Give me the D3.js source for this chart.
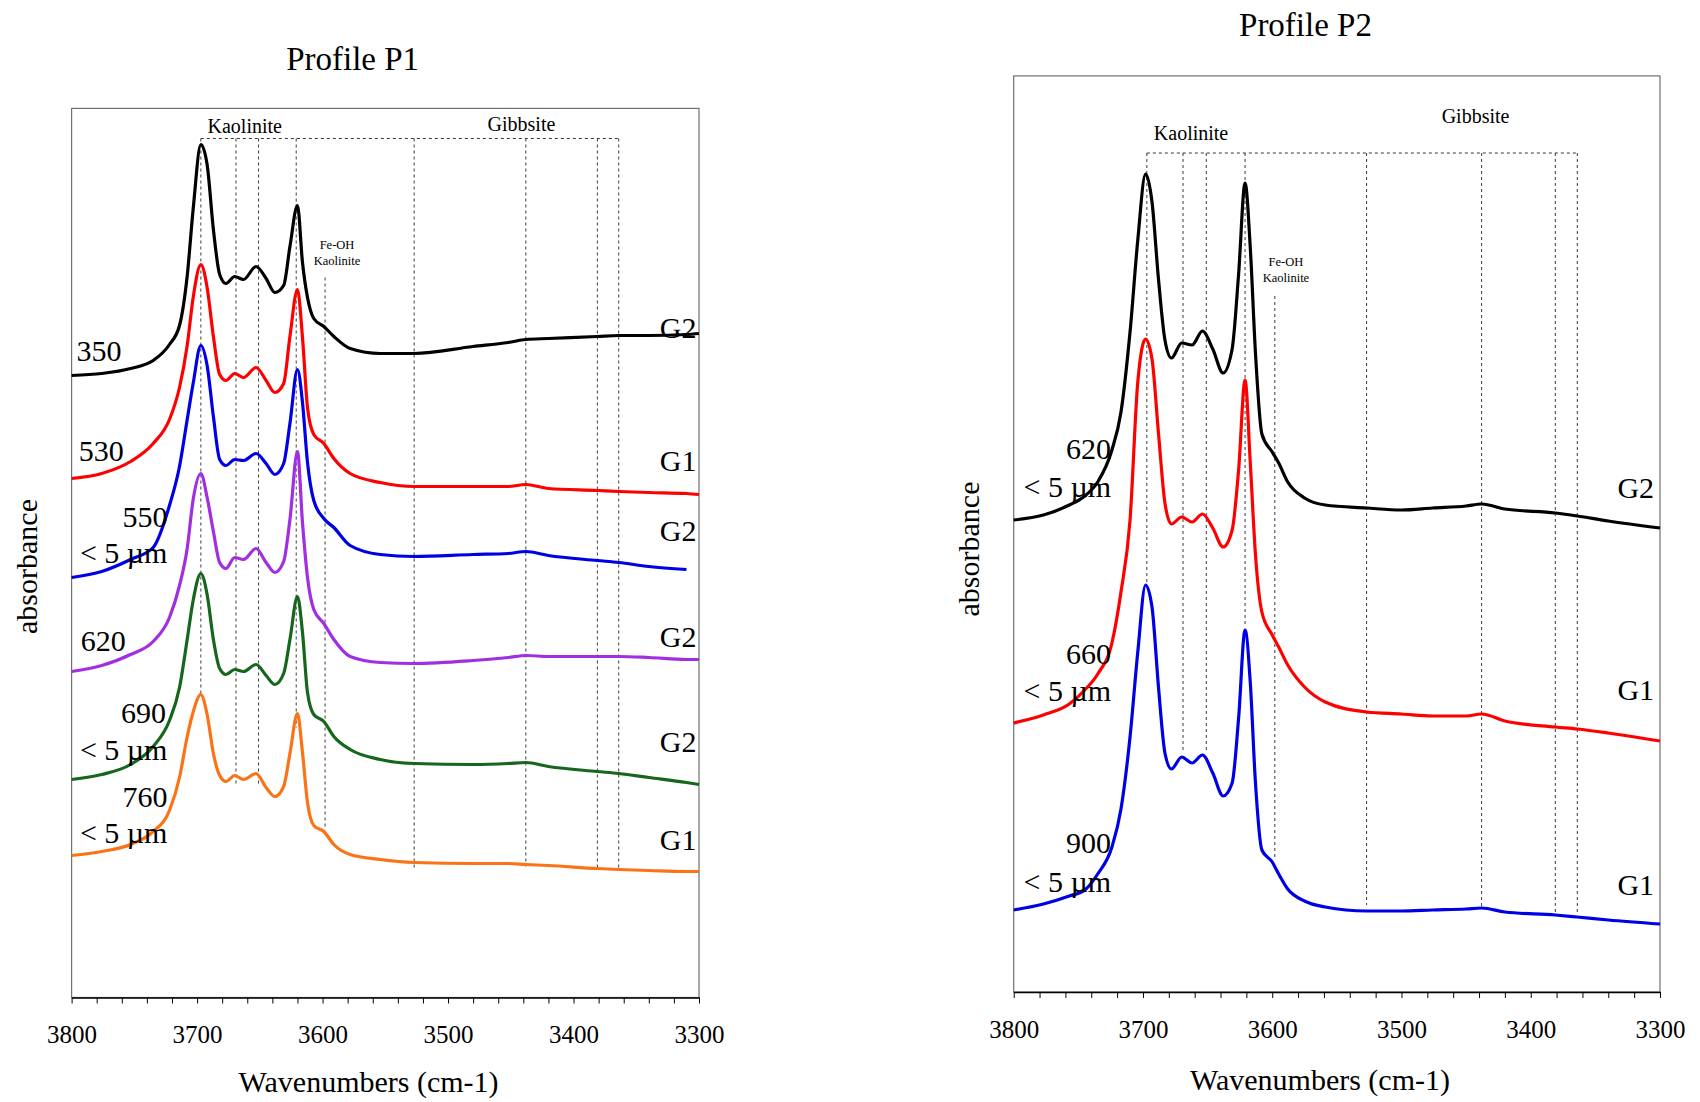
<!DOCTYPE html>
<html>
<head>
<meta charset="utf-8">
<script src="https://cdn.jsdelivr.net/npm/d3@7"></script>
<style>
  body { margin: 0; background: #fff; }
  svg { display: block; }
  text { font-family: "Liberation Serif", "Times New Roman", serif; fill: #000; }
</style>
</head>
<body>
<svg id="chart" width="1700" height="1102"></svg>
<script>
// ---------------------------------------------------------------
// FTIR spectra (OH stretching region), absorbance in arbitrary
// units, curves stacked with an offset.
// ---------------------------------------------------------------

// Profile P1
const p1Wavenumbers = [3800, 3776, 3753, 3735, 3722, 3714, 3708, 3703, 3697, 3692, 3687, 3682, 3677,
  3670, 3663, 3653, 3645, 3638, 3631, 3626, 3620, 3616, 3612, 3607, 3599, 3591, 3578, 3554, 3527,
  3480, 3452, 3438, 3420, 3381, 3364, 3340, 3310, 3300];
const p1Depth350 = [6.22, 6.24, 6.29, 6.37, 6.53, 6.72, 7.20, 7.90, 8.53, 8.33, 7.68, 7.23, 7.14,
  7.21, 7.18, 7.31, 7.19, 7.05, 7.12, 7.51, 7.92, 7.35, 7.00, 6.79, 6.71, 6.61, 6.49, 6.44, 6.44,
  6.51, 6.55, 6.58, 6.59, 6.61, 6.62, 6.62, 6.63, 6.64];
const p1Depth530 = [5.19, 5.24, 5.36, 5.54, 5.78, 6.10, 6.51, 7.01, 7.33, 7.10, 6.61, 6.23, 6.17,
  6.24, 6.20, 6.30, 6.17, 6.05, 6.14, 6.61, 7.08, 6.60, 5.90, 5.63, 5.54, 5.39, 5.24, 5.15, 5.11,
  5.11, 5.11, 5.13, 5.09, 5.07, 5.06, 5.05, 5.04, 5.03];
const p1Depth550 = [4.20, 4.26, 4.38, 4.50, 4.92, 5.31, 5.77, 6.15, 6.52, 6.32, 5.81, 5.38, 5.32,
  5.38, 5.37, 5.44, 5.34, 5.23, 5.34, 5.74, 6.28, 5.95, 5.35, 4.97, 4.79, 4.70, 4.52, 4.43, 4.41,
  4.43, 4.44, 4.46, 4.42, 4.37, 4.35, 4.31, 4.28, null];
const p1Depth620 = [3.26, 3.32, 3.43, 3.56, 3.80, 4.12, 4.48, 4.99, 5.24, 5.00, 4.66, 4.35, 4.29,
  4.40, 4.38, 4.49, 4.35, 4.25, 4.36, 4.78, 5.46, 4.75, 4.20, 3.88, 3.74, 3.58, 3.41, 3.35, 3.34,
  3.37, 3.40, 3.42, 3.41, 3.41, 3.41, 3.40, 3.38, 3.38];
const p1Depth690 = [2.18, 2.23, 2.33, 2.51, 2.77, 3.10, 3.57, 3.98, 4.24, 4.03, 3.58, 3.29, 3.23,
  3.28, 3.26, 3.33, 3.22, 3.13, 3.24, 3.58, 4.01, 3.65, 3.05, 2.83, 2.76, 2.61, 2.48, 2.38, 2.34,
  2.33, 2.34, 2.35, 2.31, 2.26, 2.24, 2.20, 2.15, 2.13];
const p1Depth760 = [1.42, 1.46, 1.53, 1.66, 1.87, 2.20, 2.60, 2.86, 3.03, 2.83, 2.44, 2.22, 2.16,
  2.22, 2.18, 2.24, 2.10, 2.01, 2.11, 2.44, 2.84, 2.45, 1.95, 1.72, 1.66, 1.53, 1.43, 1.38, 1.35,
  1.34, 1.34, 1.33, 1.32, 1.29, 1.28, 1.27, 1.26, 1.26];
const p1Depths = ["350", "530", "550", "620", "690", "760"];
const p1Fractions = ["", "", "< 5 µm", "", "< 5 µm", "< 5 µm"];
const p1Groups = ["G2", "G1", "G2", "G2", "G2", "G1"];

// Profile P2
const p2Wavenumbers = [3800, 3777, 3757, 3745, 3735, 3724, 3717, 3710, 3704, 3698, 3693, 3688, 3683,
  3678, 3670, 3662, 3654, 3646, 3638, 3631, 3626, 3621, 3617, 3613, 3608, 3600, 3595, 3588, 3575,
  3559, 3527, 3500, 3476, 3450, 3438, 3420, 3381, 3364, 3340, 3300];
const p2Depth620 = [4.72, 4.77, 4.87, 4.96, 5.10, 5.42, 5.80, 6.60, 7.52, 8.18, 7.90, 7.13, 6.52,
  6.34, 6.49, 6.47, 6.61, 6.43, 6.19, 6.43, 7.18, 8.09, 7.45, 6.40, 5.58, 5.40, 5.29, 5.10, 4.94,
  4.87, 4.84, 4.82, 4.84, 4.86, 4.88, 4.83, 4.79, 4.76, 4.71, 4.64];
const p2Depth660 = [2.69, 2.77, 2.88, 3.02, 3.18, 3.49, 4.00, 4.72, 6.10, 6.53, 6.33, 5.59, 4.89,
  4.68, 4.75, 4.70, 4.78, 4.64, 4.45, 4.62, 5.22, 6.12, 5.30, 4.38, 3.80, 3.57, 3.45, 3.27, 3.05,
  2.90, 2.80, 2.78, 2.76, 2.76, 2.78, 2.71, 2.65, 2.63, 2.59, 2.51];
const p2Depth900 = [0.82, 0.88, 0.96, 1.02, 1.18, 1.45, 1.83, 2.55, 3.40, 4.07, 3.85, 3.05, 2.39,
  2.23, 2.35, 2.29, 2.37, 2.19, 1.96, 2.09, 2.74, 3.62, 3.10, 2.10, 1.42, 1.30, 1.18, 1.03, 0.91,
  0.85, 0.81, 0.81, 0.82, 0.83, 0.84, 0.80, 0.77, 0.75, 0.72, 0.68];
const p2Depths = ["620", "660", "900"];
const p2Fractions = ["< 5 µm", "< 5 µm", "< 5 µm"];
const p2Groups = ["G2", "G1", "G1"];

// Reference band positions (cm-1): kaolinite OH bands, Fe-OH kaolinite, gibbsite OH bands
const bandWavenumbers = [3697, 3669, 3651, 3621, 3598, 3527, 3438, 3381, 3364];
const feOHBand = 3598;

// Axis ticks
const xMajorTicks = [3800, 3700, 3600, 3500, 3400, 3300];
const xMinorStep = 20;

// ---------------------------------------------------------------
// Layout and styles
// ---------------------------------------------------------------
const lineColors = {
  p1: ["#000000", "#ff0000", "#0000e6", "#a12ee0", "#17661d", "#fb7317"],
  p2: ["#000000", "#ff0000", "#0000e6"]
};

const panels = [
  {
    key: "p1", title: "Profile P1",
    box: { left: 71.6, right: 699, top: 108.4, bottom: 997.5 },
    yMax: 8.891,
    wn: p1Wavenumbers,
    series: [p1Depth350, p1Depth530, p1Depth550, p1Depth620, p1Depth690, p1Depth760],
    depths: p1Depths, fractions: p1Fractions, groups: p1Groups,
    titlePos: [352.6, 70], xTitlePos: [368.6, 1092], yTitlePos: [37, 566.5],
    guideTop: 8.59, feOHTop: 7.20,
    guideBottom: [3.04, 2.11, 2.14, 2.70, 1.69, 1.30, 1.31, 1.30, 1.28],
    kaolinite: [3662, 8.65], gibbsite: [3441.5, 8.67], feOH: [3588.5, 7.49], feOHKaol: [3588.5, 7.33],
    // [wavenumber, absorbance, anchor] for depth label and fraction label, plus group label level
    depthLabels: [[3796, 6.37, "start"], [3794.3, 5.37, "start"], [3723.6, 4.71, "end"],
                  [3792.7, 3.47, "start"], [3724.8, 2.75, "end"], [3723.6, 1.91, "end"]],
    fractionLabels: [null, null, [3723.6, 4.35], null, [3723.6, 2.38], [3723.6, 1.55]],
    groupLevel: [6.60, 5.27, 4.57, 3.51, 2.46, 1.48], groupWn: 3302
  },
  {
    key: "p2", title: "Profile P2",
    box: { left: 1013.7, right: 1660, top: 75.9, bottom: 992 },
    yMax: 9.161,
    wn: p2Wavenumbers,
    series: [p2Depth620, p2Depth660, p2Depth900],
    depths: p2Depths, fractions: p2Fractions, groups: p2Groups,
    titlePos: [1305.5, 36], xTitlePos: [1320, 1090], yTitlePos: [979, 549],
    guideTop: 8.39, feOHTop: 6.96,
    guideBottom: [4.09, 2.39, 2.39, 3.65, 1.32, 0.87, 0.85, 0.79, 0.79],
    kaolinite: [3662.8, 8.52], gibbsite: [3442.7, 8.69], feOH: [3589.4, 7.26], feOHKaol: [3589.4, 7.10],
    depthLabels: [[3724.7, 5.33, "end"], [3724.7, 3.28, "end"], [3724.7, 1.39, "end"]],
    fractionLabels: [[3724.7, 4.95], [3724.7, 2.91], [3724.7, 1.00]],
    groupLevel: [4.94, 2.92, 0.97], groupWn: 3304.6
  }
];

const svg = d3.select("#chart");

panels.forEach(p => {
  const b = p.box;
  const x = d3.scaleLinear().domain([3800, 3300]).range([b.left, b.right]);
  const y = d3.scaleLinear().domain([0, p.yMax]).range([b.bottom, b.top]);
  const g = svg.append("g").attr("class", "panel-" + p.key);

  // frame
  g.append("rect")
    .attr("x", b.left).attr("y", b.top)
    .attr("width", b.right - b.left).attr("height", b.bottom - b.top)
    .attr("fill", "none").attr("stroke", "#707070").attr("stroke-width", 1.2);

  // dashed guides for reference bands
  const guides = g.append("g").attr("stroke", "#3a3a3a").attr("stroke-width", 1)
    .attr("stroke-dasharray", "3,3").attr("fill", "none");
  guides.append("line")
    .attr("x1", x(bandWavenumbers[0])).attr("x2", x(bandWavenumbers[bandWavenumbers.length - 1]))
    .attr("y1", y(p.guideTop)).attr("y2", y(p.guideTop));
  bandWavenumbers.forEach((wn, i) => {
    const top = wn === feOHBand ? p.feOHTop : p.guideTop;
    guides.append("line")
      .attr("x1", x(wn)).attr("x2", x(wn))
      .attr("y1", y(top)).attr("y2", y(p.guideBottom[i]));
  });

  // band annotations
  const ann = [
    ["Kaolinite", p.kaolinite, 20], ["Gibbsite", p.gibbsite, 20],
    ["Fe-OH", p.feOH, 12.5], ["Kaolinite", p.feOHKaol, 12.5]
  ];
  ann.forEach(([t, pos, fs]) => {
    g.append("text").attr("x", x(pos[0])).attr("y", y(pos[1]))
      .attr("text-anchor", "middle").style("font-size", fs + "px").text(t);
  });

  // spectra
  const line = d3.line()
    .defined(d => d[1] != null)
    .x(d => x(d[0])).y(d => y(d[1]))
    .curve(d3.curveMonotoneX);
  p.series.forEach((vals, i) => {
    const pts = p.wn.map((w, j) => [w, vals[j]]);
    g.append("path").datum(pts)
      .attr("d", line)
      .attr("fill", "none")
      .attr("stroke", lineColors[p.key][i])
      .attr("stroke-width", 3.2)
      .attr("stroke-linejoin", "round");
  });

  // sample labels
  p.depths.forEach((d, i) => {
    const dl = p.depthLabels[i];
    g.append("text").attr("x", x(dl[0])).attr("y", y(dl[1]))
      .attr("text-anchor", dl[2]).style("font-size", "30px").text(d);
    const fl = p.fractionLabels[i];
    if (fl && p.fractions[i]) {
      g.append("text").attr("x", x(fl[0])).attr("y", y(fl[1]))
        .attr("text-anchor", "end").style("font-size", "30px").text(p.fractions[i]);
    }
    g.append("text").attr("x", x(p.groupWn)).attr("y", y(p.groupLevel[i]))
      .attr("text-anchor", "end").style("font-size", "30px").text(p.groups[i]);
  });

  // x axis with minor ticks every 20 cm-1
  const tickVals = d3.range(3800, 3299, -xMinorStep);
  const axis = d3.axisBottom(x)
    .tickValues(tickVals)
    .tickSize(6).tickSizeOuter(0).tickPadding(22)
    .tickFormat(v => xMajorTicks.includes(v) ? String(v) : "");
  const ax = g.append("g").attr("transform", `translate(0,${b.bottom})`).call(axis);
  ax.select(".domain").attr("stroke", "#000").attr("stroke-width", 1.3);
  ax.selectAll(".tick line").attr("stroke", "#000").attr("stroke-width", 1);
  ax.selectAll(".tick text")
    .style("font-family", '"Liberation Serif", "Times New Roman", serif')
    .style("font-size", "25px").attr("fill", "#000");

  // titles
  g.append("text").attr("x", p.titlePos[0]).attr("y", p.titlePos[1])
    .attr("text-anchor", "middle").style("font-size", "33px").text(p.title);
  g.append("text").attr("x", p.xTitlePos[0]).attr("y", p.xTitlePos[1])
    .attr("text-anchor", "middle").style("font-size", "30px").text("Wavenumbers (cm-1)");
  g.append("text")
    .attr("transform", `translate(${p.yTitlePos[0]},${p.yTitlePos[1]}) rotate(-90)`)
    .attr("text-anchor", "middle").style("font-size", "30px").text("absorbance");
});
</script>
</body>
</html>
